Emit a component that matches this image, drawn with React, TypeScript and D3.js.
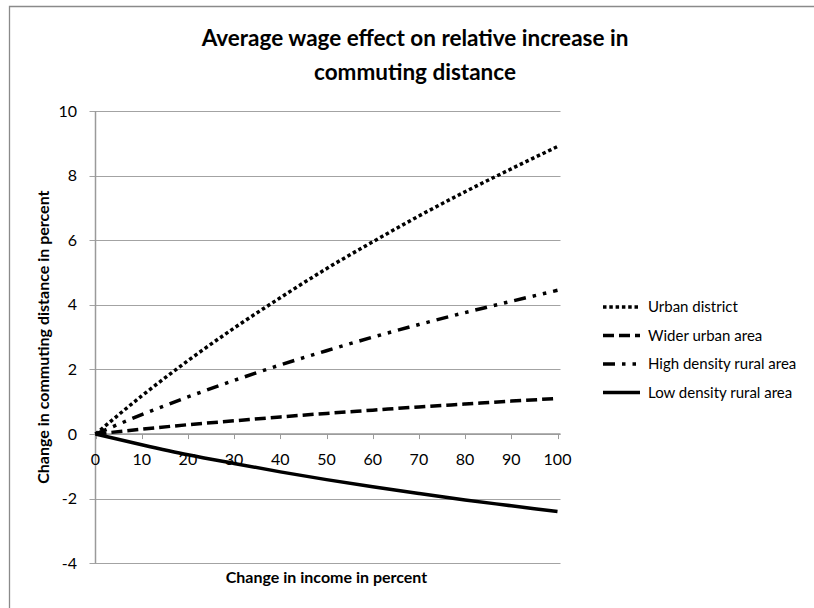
import React from 'react';
import { scaleLinear, line, curveMonotoneX } from 'd3';

// x values: change in income in percent
const incomeSteps = [0, 10, 20, 30, 40, 50, 60, 70, 80, 90, 100];

// change in commuting distance in percent
const urbanDistrict = [0, 1.18, 2.27, 3.28, 4.22, 5.12, 5.95, 6.75, 7.5, 8.21, 8.9];
const widerUrban = [0, 0.15, 0.29, 0.41, 0.53, 0.64, 0.74, 0.84, 0.93, 1.02, 1.1];
const highDensityRural = [0, 0.6, 1.15, 1.66, 2.14, 2.58, 3.0, 3.39, 3.76, 4.11, 4.45];
const lowDensityRural = [0, -0.33, -0.64, -0.91, -1.17, -1.41, -1.63, -1.84, -2.04, -2.22, -2.4];

const seriesNames = ['Urban district', 'Wider urban area', 'High density rural area', 'Low density rural area'];
const seriesValues = [urbanDistrict, widerUrban, highDensityRural, lowDensityRural];

const xTicks = [0, 10, 20, 30, 40, 50, 60, 70, 80, 90, 100];
const yTicks = [-4, -2, 0, 2, 4, 6, 8, 10];

const titleLines = ['Average wage effect on relative increase in', 'commuting distance'];

const dashes = ['3.5,2.8', '11,5', '12,7,3.5,7,3.5,7', null];

const FONT = 'Lato, "Open Sans", sans-serif';
const GRID = '#a3a3a3';

const App = () => {
  const width = 814;
  const height = 608;

  const xScale = scaleLinear().domain([0, 100]).range([95.5, 557.5]);
  const yScale = scaleLinear().domain([-4, 10]).range([563.3, 111]);

  const lineGen = line<number>()
    .x((_, i) => xScale(incomeSteps[i]))
    .y((d) => yScale(d))
    .curve(curveMonotoneX);

  const plotLeft = xScale(0);
  const plotRight = xScale(100) + 3;
  const plotMidX = (xScale(0) + xScale(100)) / 2;
  const plotMidY = (yScale(10) + yScale(-4)) / 2;

  const legendRows = [307, 335.5, 364, 392.5];

  return (
    <svg
      width={width}
      height={height}
      style={{ position: 'absolute', left: 0, top: 0, background: '#fff' }}
    >
      {/* chart frame (cropped on right and bottom) */}
      <path d={`M9.5,${height} V6.5 H${width}`} fill="none" stroke="#8a8a8a" strokeWidth={1.3} />

      {/* title */}
      <text x={415} y={46} textAnchor="middle" fontFamily={FONT} fontWeight="bold" fontSize={22.5} fill="#000">
        {titleLines[0]}
      </text>
      <text x={415} y={80} textAnchor="middle" fontFamily={FONT} fontWeight="bold" fontSize={22.5} fill="#000">
        {titleLines[1]}
      </text>

      {/* horizontal gridlines with tick stubs */}
      {yTicks.map((t) => (
        <g key={`y${t}`}>
          <line
            x1={plotLeft - 6}
            x2={plotRight}
            y1={Math.round(yScale(t)) + 0.5}
            y2={Math.round(yScale(t)) + 0.5}
            stroke={GRID}
            strokeWidth={1}
          />
          <text
            x={77}
            y={yScale(t)}
            dy="0.35em"
            textAnchor="end"
            fontFamily={FONT}
            fontSize={16}
            fill="#000"
          >
            {t}
          </text>
        </g>
      ))}

      {/* y axis line */}
      <line x1={plotLeft} x2={plotLeft} y1={yScale(10)} y2={yScale(-4)} stroke="#9a9a9a" strokeWidth={1.5} />

      {/* x axis at zero with ticks below */}
      <line x1={plotLeft} x2={plotRight} y1={yScale(0)} y2={yScale(0)} stroke="#9a9a9a" strokeWidth={1.5} />
      {xTicks.map((t) => (
        <g key={`x${t}`}>
          <line
            x1={Math.round(xScale(t)) + 0.5}
            x2={Math.round(xScale(t)) + 0.5}
            y1={yScale(0)}
            y2={yScale(0) + 5}
            stroke="#9a9a9a"
            strokeWidth={1}
          />
          <text x={xScale(t)} y={465} textAnchor="middle" fontFamily={FONT} fontSize={16} fill="#000">
            {t}
          </text>
        </g>
      ))}

      {/* series */}
      {seriesValues.map((vals, i) => (
        <path
          key={seriesNames[i]}
          d={lineGen(vals) || ''}
          fill="none"
          stroke="#000"
          strokeWidth={3.5}
          strokeDasharray={dashes[i] || undefined}
        />
      ))}

      {/* axis titles */}
      <text x={plotMidX} y={583} textAnchor="middle" fontFamily={FONT} fontWeight="bold" fontSize={16} fill="#000">
        Change in income in percent
      </text>
      <text
        transform={`translate(49, ${plotMidY}) rotate(-90)`}
        textAnchor="middle"
        fontFamily={FONT}
        fontWeight="bold"
        fontSize={16}
        fill="#000"
      >
        Change in commuting distance in percent
      </text>

      {/* legend */}
      {seriesNames.map((name, i) => (
        <g key={`lg${i}`}>
          <line
            x1={603}
            x2={640}
            y1={legendRows[i]}
            y2={legendRows[i]}
            stroke="#000"
            strokeWidth={3.5}
            strokeDasharray={dashes[i] || undefined}
          />
          <text x={648} y={legendRows[i]} dy="0.35em" fontFamily={FONT} fontSize={15} fill="#000">
            {name}
          </text>
        </g>
      ))}
    </svg>
  );
};

export default App;
